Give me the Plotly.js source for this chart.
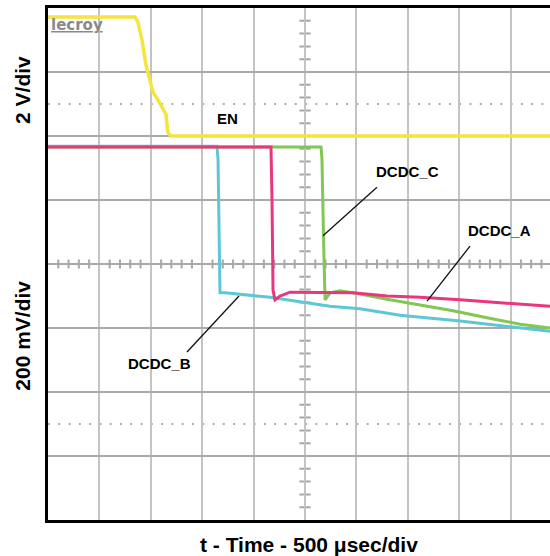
<!DOCTYPE html>
<html><head><meta charset="utf-8">
<script src="https://cdn.plot.ly/plotly-3.0.1.min.js"></script>
<style>html,body{margin:0;padding:0;background:#fff}</style>
</head><body><div id="chart" style="width:550px;height:556px"></div>
<script>
// Time in microseconds from the left screen edge (500 us/div), vertical in screen divisions (centre = 0)
const enTime  = [0, 846, 875, 914, 953, 992, 1021, 1070, 1119, 1148, 1158, 1167, 1196, 4883];
const enDiv   = [3.86, 3.86, 3.78, 3.5, 3.11, 2.875, 2.69, 2.56, 2.42, 2.34, 2.17, 2.05, 2.0, 2.0];

const dcdcBTime = [0, 1644, 1654, 1663, 1673, 1722, 1868, 2160, 2451, 2743, 3035, 3424, 4008, 4494, 4883];
const dcdcBDiv  = [1.84, 1.84, 1.625, 0.22, -0.45, -0.45, -0.47, -0.52, -0.59, -0.66, -0.70, -0.80, -0.89, -0.98, -1.05];

const dcdcATime = [0, 2169, 2179, 2189, 2208, 2257, 2354, 2646, 2967, 3298, 3619, 4008, 4465, 4883];
const dcdcADiv  = [1.83, 1.83, 1.0, -0.41, -0.56, -0.5, -0.44, -0.45, -0.45, -0.5, -0.52, -0.56, -0.61, -0.66];

const dcdcCTime = [0, 2656, 2665, 2675, 2685, 2695, 2743, 2840, 3035, 3298, 3619, 3940, 4270, 4591, 4883];
const dcdcCDiv  = [1.83, 1.83, 1.625, 0.42, 0.06, -0.56, -0.45, -0.42, -0.47, -0.55, -0.64, -0.73, -0.84, -0.94, -1.0];

const labelNames = ['EN', 'DCDC_C', 'DCDC_A', 'DCDC_B'];
const labelTime  = [1746, 3497, 4387, 1080];
const labelDiv   = [2.27, 1.44, 0.52, -1.56];
// leader lines: [label end time, label end div] -> [trace time, trace div]
const leaderFrom = [[3200, 1.20], [4105, 0.28], [1352, -1.375]];
const leaderTo   = [[2675, 0.44], [3687, -0.58], [1858, -0.5]];

const xMax = 4883;
const FONT = 'Arial, "Liberation Sans", sans-serif';

function tr(x, y, color, w) {
  return {x: x, y: y, type: 'scatter', mode: 'lines', line: {color: color, width: w}, hoverinfo: 'skip', showlegend: false};
}
const data = [
  tr(dcdcBTime, dcdcBDiv, '#5fc6d6', 3),
  tr(dcdcCTime, dcdcCDiv, '#82c653', 3),
  tr(dcdcATime, dcdcADiv, '#e8377c', 3),
  tr(enTime, enDiv, '#f6e43e', 3.5)
];

// graticule decorations
let pX = '', pY = '';
for (let k = 1; k < 50; k++) {
  if (k % 5 === 0) continue;
  const t = k * 100;
  if (t > xMax) break;
  pX += `M${t},-0.07L${t},0.07`;
}
for (let k = -19; k < 20; k++) {
  if (k % 5 === 0) continue;
  const y = k * 0.2;
  pY += `M${2500 - 55},${y}L${2500 + 55},${y}`;
}
const shapes = [
  {type: 'line', xref: 'x', yref: 'y', x0: 0, x1: xMax, y0: 2.5, y1: 2.5, layer: 'below', line: {color: '#ababab', width: 2, dash: '2px,8.28px'}},
  {type: 'line', xref: 'x', yref: 'y', x0: 0, x1: xMax, y0: -2.5, y1: -2.5, layer: 'below', line: {color: '#ababab', width: 2, dash: '2px,8.28px'}},
  {type: 'path', path: pX, xref: 'x', yref: 'y', layer: 'below', line: {color: '#a8a8a8', width: 2}},
  {type: 'path', path: pY, xref: 'x', yref: 'y', layer: 'below', line: {color: '#a8a8a8', width: 2}}
];
leaderFrom.forEach((f, i) => {
  shapes.push({type: 'line', xref: 'x', yref: 'y', x0: f[0], y0: f[1], x1: leaderTo[i][0], y1: leaderTo[i][1], line: {color: '#111', width: 1.3}});
});

const annotations = labelNames.map((n, i) => ({
  text: '<b>' + n + '</b>', x: labelTime[i], y: labelDiv[i], xref: 'x', yref: 'y',
  showarrow: false, xanchor: 'center', yanchor: 'middle', font: {family: FONT, size: 15, color: '#000'}
}));
annotations.push(
  {text: '<b>2 V/div</b>', xref: 'paper', yref: 'paper', x: -0.0498, y: 0.84, textangle: -90, showarrow: false, xanchor: 'center', yanchor: 'middle', font: {family: FONT, size: 21, color: '#000'}},
  {text: '<b>200 mV/div</b>', xref: 'paper', yref: 'paper', x: -0.0498, y: 0.36, textangle: -90, showarrow: false, xanchor: 'center', yanchor: 'middle', font: {family: FONT, size: 21, color: '#000'}},
  {text: '<b>t - Time - 500 \u03bcsec/div</b>', xref: 'paper', yref: 'paper', x: 0.52, y: -0.047, showarrow: false, xanchor: 'center', yanchor: 'middle', font: {family: FONT, size: 21, color: '#000'}},
  {text: '<b><u>lecroy</u></b>', xref: 'paper', yref: 'paper', x: 0.002, y: 0.966, showarrow: false, xanchor: 'left', yanchor: 'middle', font: {family: '"DejaVu Sans", sans-serif', size: 15, color: '#8a8a8a'}}
);

const layout = {
  width: 550, height: 556,
  margin: {l: 48, r: 0, t: 8, b: 36, pad: 0},
  paper_bgcolor: '#fff', plot_bgcolor: '#fff',
  showlegend: false,
  xaxis: {range: [0, xMax], tick0: 0, dtick: 500, showgrid: true, gridcolor: '#c3c3c3', gridwidth: 2,
          zeroline: false, showticklabels: false, ticks: '', showline: true, linecolor: '#000', linewidth: 3, mirror: true, fixedrange: true},
  yaxis: {range: [-4, 4], tick0: 0, dtick: 1, showgrid: true, gridcolor: '#a9a9a9', gridwidth: 2,
          zeroline: false, showticklabels: false, ticks: '', showline: true, linecolor: '#000', linewidth: 3, mirror: false, fixedrange: true},
  shapes: shapes,
  annotations: annotations
};
Plotly.newPlot('chart', data, layout, {displayModeBar: false, staticPlot: true});
</script></body></html>
